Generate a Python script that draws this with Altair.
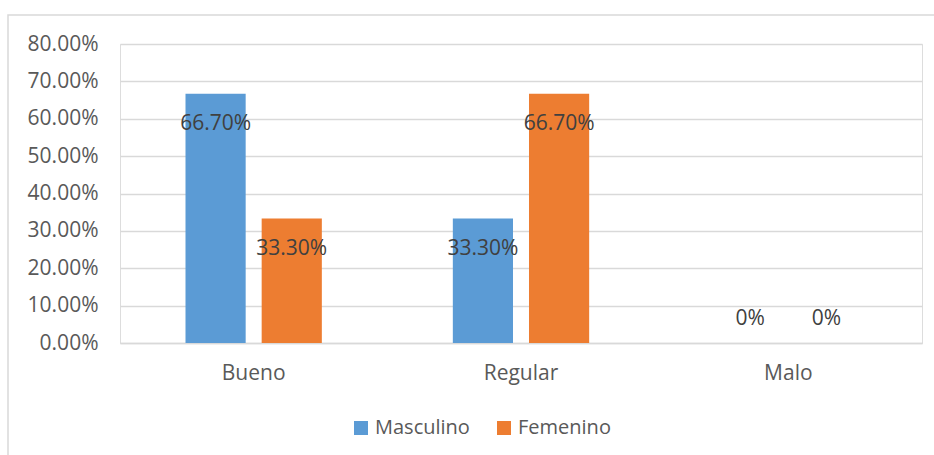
import altair as alt
import pandas as pd

categories = ["Bueno", "Regular", "Malo"]
series = ["Masculino", "Femenino"]
masculino = [0.667, 0.333, 0.0]
femenino = [0.333, 0.667, 0.0]
colors = ["#5B9BD5", "#ED7D31"]
y_ticks = [0, 0.1, 0.2, 0.3, 0.4, 0.5, 0.6, 0.7, 0.8]

rows = []
for i, c in enumerate(categories):
    for s, vals in zip(series, [masculino, femenino]):
        v = vals[i]
        rows.append({"cat": c, "serie": s, "val": v,
                     "label": ("%.2f%%" % (v * 100)) if v else "0%"})
df = pd.DataFrame(rows)

FONT = "Open Sans"
FS = 21

x = alt.X("cat:N", sort=categories, title=None,
          scale=alt.Scale(paddingInner=0.49, paddingOuter=0.245),
          axis=alt.Axis(labelAngle=0, labelFontSize=FS, labelColor="#595959",
                        labelFont=FONT, labelPadding=19, ticks=False, grid=False,
                        domainColor="#D9D9D9", domainWidth=1.5))
xo = alt.XOffset("serie:N", sort=series,
                 scale=alt.Scale(paddingInner=0.21, paddingOuter=0))
y = alt.Y("val:Q", title=None,
          scale=alt.Scale(domain=[0, 0.8], nice=False),
          axis=alt.Axis(values=y_ticks, format=".2%", labelFontSize=FS,
                        labelColor="#595959", labelFont=FONT, labelPadding=22,
                        ticks=False, domain=False, gridColor="#D9D9D9",
                        gridWidth=1.5))

bars = alt.Chart(df).mark_bar().encode(
    x=x, xOffset=xo, y=y,
    color=alt.Color("serie:N", sort=series,
                    scale=alt.Scale(domain=series, range=colors),
                    legend=alt.Legend(title=None, orient="none", direction="horizontal",
                                      legendX=231, legendY=374, symbolType="square",
                                      symbolSize=196, symbolStrokeWidth=0,
                                      labelFontSize=20, labelFont=FONT,
                                      labelColor="#595959", columnPadding=24,
                                      labelOffset=4)))

labels_in = alt.Chart(df).transform_filter("datum.val > 0").mark_text(
    baseline="middle", dy=30, fontSize=FS, font=FONT, color="#404040"
).encode(x=x, xOffset=xo, y=y, text="label:N")

labels_zero = alt.Chart(df).transform_filter("datum.val == 0").mark_text(
    baseline="middle", dy=-24, fontSize=FS, font=FONT, color="#404040"
).encode(x=x, xOffset=xo, y=y, text="label:N")

border = alt.Chart(df).transform_filter("datum.cat == 'Bueno' && datum.serie == 'Masculino'").mark_rect(
    fill=None, fillOpacity=0, stroke="#D9D9D9", strokeWidth=1.5
).encode(x=alt.value(-112), x2=alt.value(900), y=alt.value(-29), y2=alt.value(480))

chart = alt.layer(border, bars, labels_in, labels_zero).properties(
    width=802, height=299,
    padding={"left": 120, "top": 44, "right": 12, "bottom": 112},
    autosize=alt.AutoSizeParams(type="none"),
).configure_view(strokeWidth=0).configure(background="white")

chart.save("out.html", embed_options={"renderer": "svg", "actions": False})
